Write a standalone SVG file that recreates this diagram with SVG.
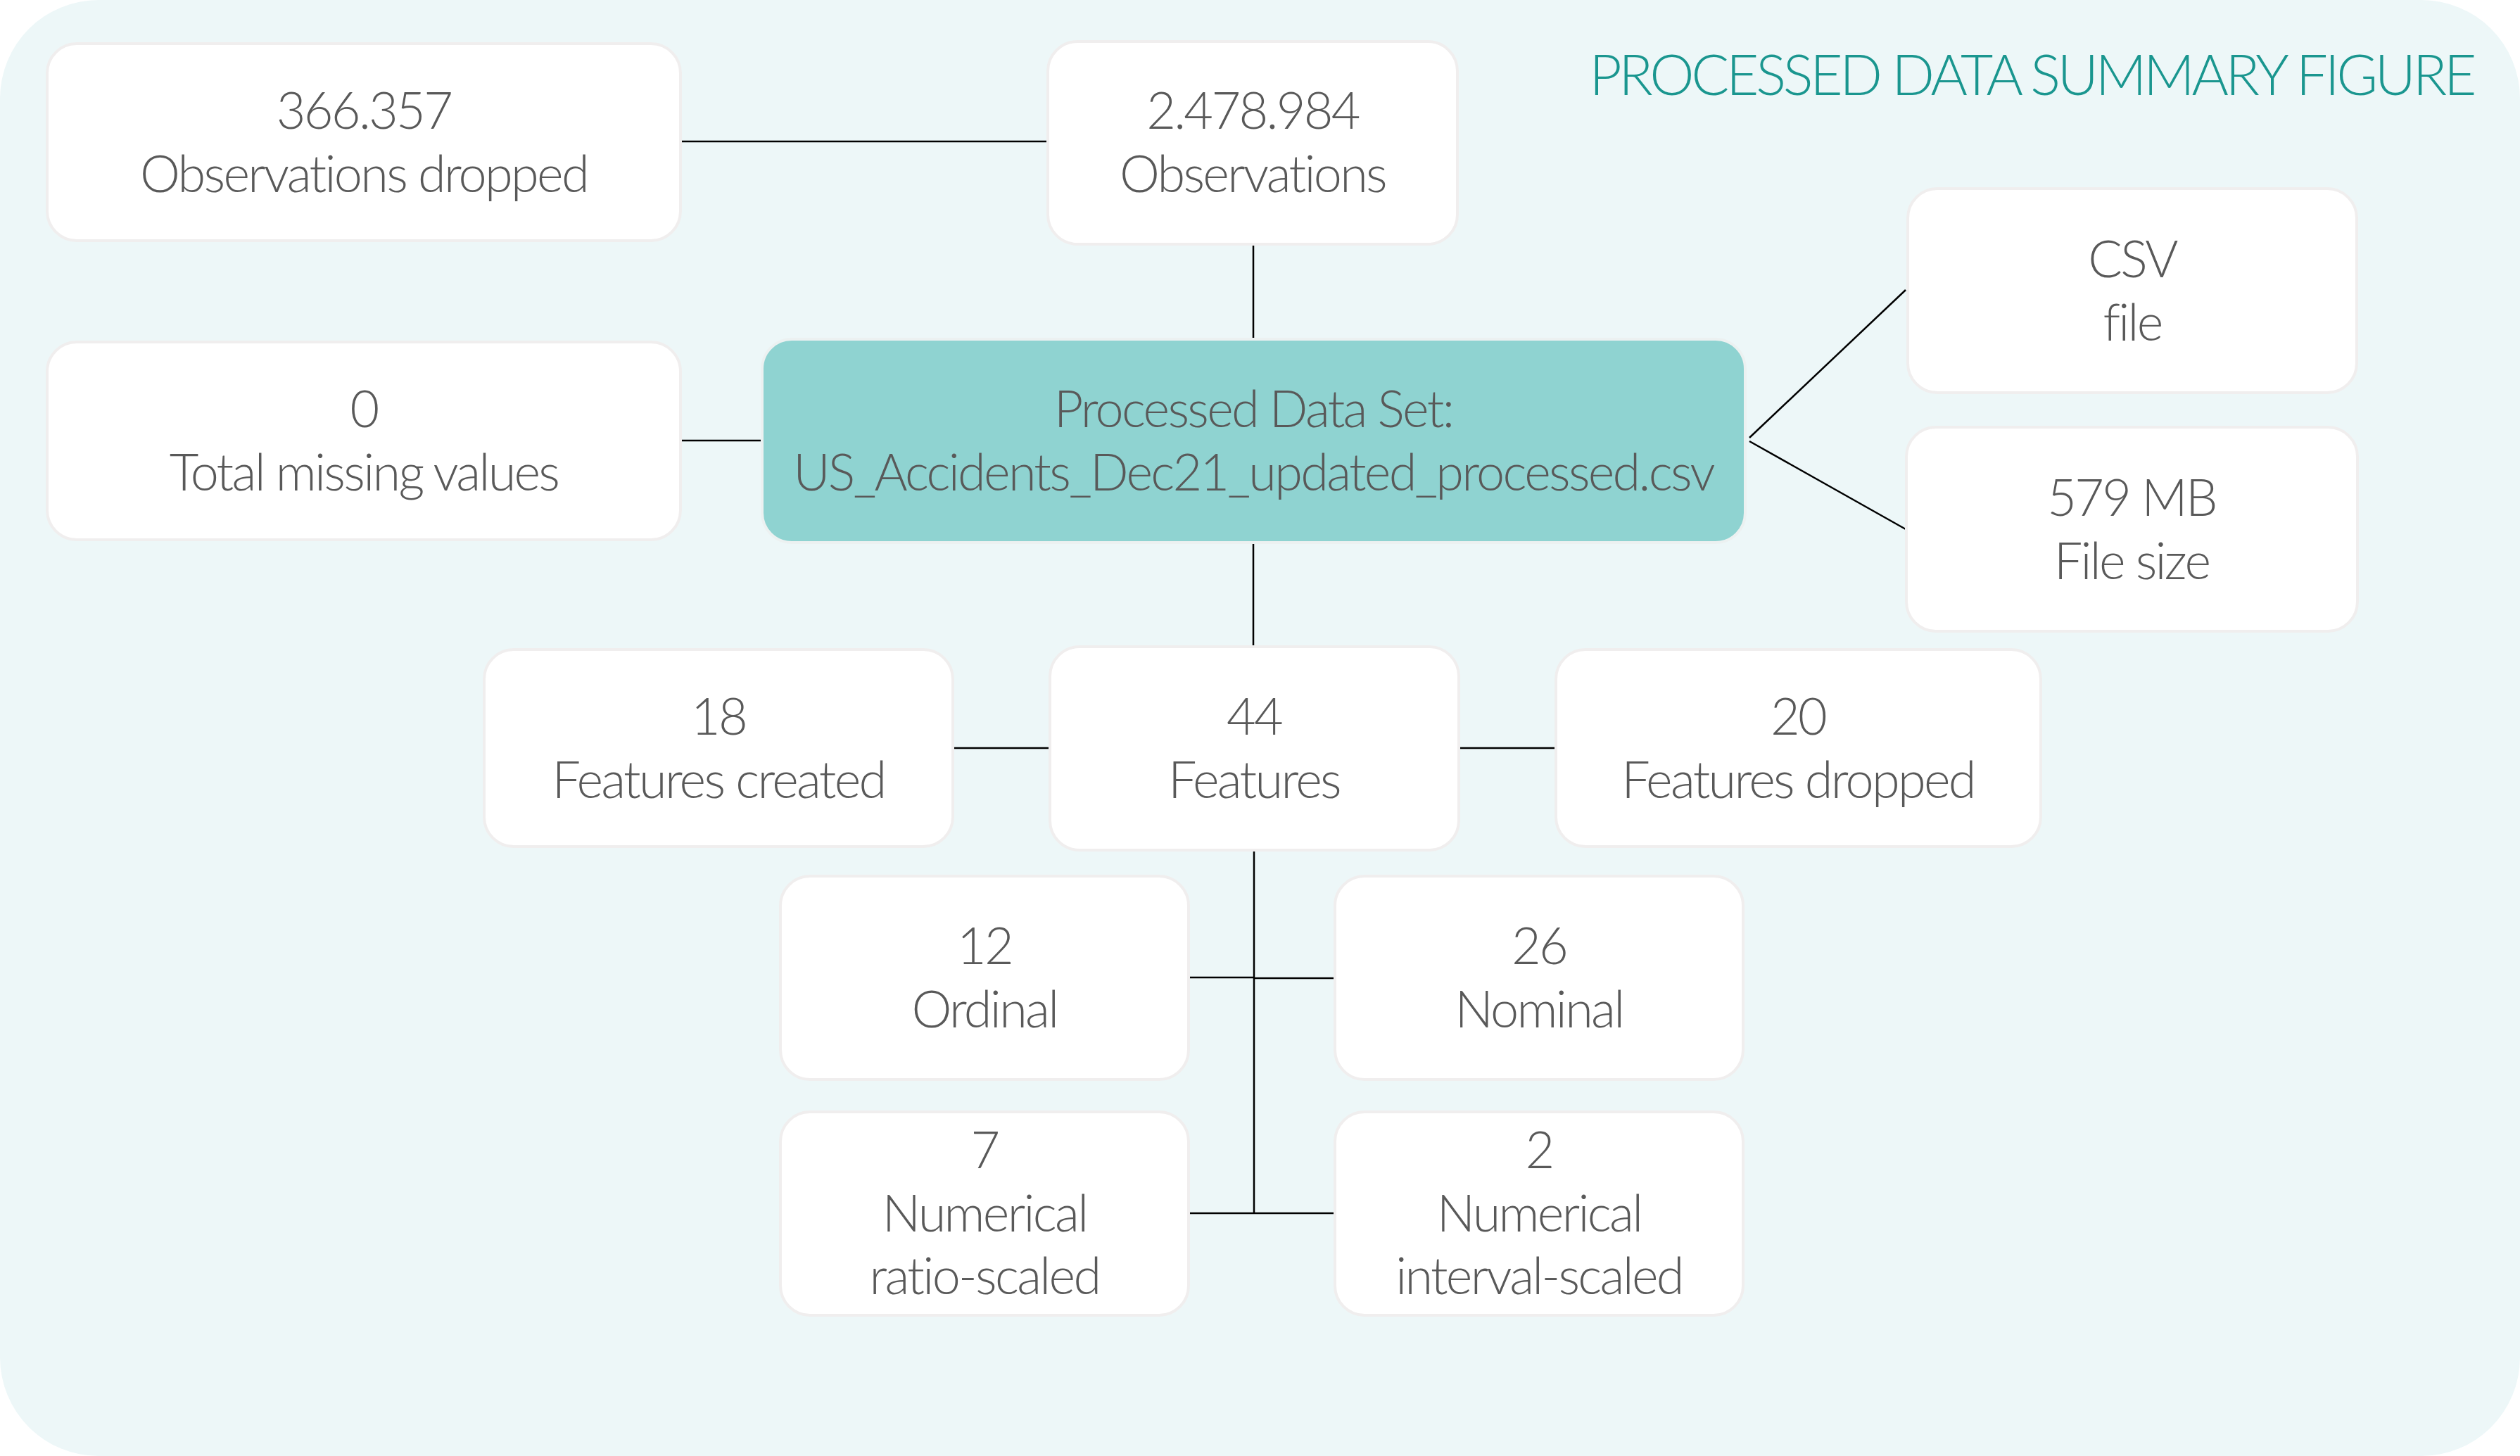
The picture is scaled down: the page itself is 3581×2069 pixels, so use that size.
<svg xmlns="http://www.w3.org/2000/svg" width="3581" height="2069" viewBox="0 0 3581 2069">
<style>
.bg{fill:#EDF7F8}
.box{fill:#FFFFFF;stroke:#F0EEEE;stroke-width:4}
.main{fill:#8FD3D1;stroke:#ECF1F1;stroke-width:4}
.t{font-family:Lato,"Liberation Sans",sans-serif;font-weight:300;font-size:72px;letter-spacing:-2.7px;fill:#595959;text-anchor:middle}
.title{font-family:Lato,"Liberation Sans",sans-serif;font-weight:300;font-size:80px;letter-spacing:-4.3px;fill:#1A968F;text-anchor:end}
.c{stroke:#000;stroke-width:2.5;fill:none}
</style>
<rect class="bg" x="0" y="0" width="3581" height="2069" rx="140" ry="140"/>
<text class="title" x="3515" y="135">PROCESSED DATA SUMMARY FIGURE</text>
<g id="connectors">
<line class="c" x1="967" y1="201" x2="1489" y2="201"/>
<line class="c" x1="1781" y1="347" x2="1781" y2="482"/>
<line class="c" x1="967" y1="626" x2="1083" y2="626"/>
<line class="c" x1="2486" y1="622" x2="2708" y2="412"/>
<line class="c" x1="2486" y1="627" x2="2708" y2="752"/>
<line class="c" x1="1781" y1="771" x2="1781" y2="919"/>
<line class="c" x1="1354" y1="1063" x2="1492" y2="1063"/>
<line class="c" x1="2073" y1="1063" x2="2211" y2="1063"/>
<line class="c" x1="1782" y1="1208" x2="1782" y2="1724"/>
<line class="c" x1="1689" y1="1389" x2="1782" y2="1389"/>
<line class="c" x1="1782" y1="1390" x2="1897" y2="1390"/>
<line class="c" x1="1689" y1="1724" x2="1897" y2="1724"/>
</g>
<g id="n-obs-dropped"><rect class="box" x="67" y="62" width="900" height="280" rx="42"/><text class="t" x="517" y="183">366.357</text><text class="t" x="517" y="273">Observations dropped</text></g>
<g id="n-observations"><rect class="box" x="1489" y="59" width="582" height="288" rx="42"/><text class="t" x="1780" y="183">2.478.984</text><text class="t" x="1780" y="273">Observations</text></g>
<g id="n-processed"><rect class="main" x="1083" y="482" width="1397" height="289" rx="42"/><text class="t" x="1781" y="607">Processed Data Set:</text><text class="t" x="1781" y="697">US_Accidents_Dec21_updated_processed.csv</text></g>
<g id="n-missing"><rect class="box" x="67" y="486" width="900" height="281" rx="42"/><text class="t" x="517" y="607">0</text><text class="t" x="517" y="697">Total missing values</text></g>
<g id="n-csv"><rect class="box" x="2711" y="268" width="638" height="290" rx="42"/><text class="t" x="3030" y="394">CSV</text><text class="t" x="3030" y="484">file</text></g>
<g id="n-filesize"><rect class="box" x="2709" y="607" width="641" height="290" rx="42"/><text class="t" x="3029" y="733">579 MB</text><text class="t" x="3029" y="823">File size</text></g>
<g id="n-created"><rect class="box" x="688" y="923" width="666" height="280" rx="42"/><text class="t" x="1021" y="1044">18</text><text class="t" x="1021" y="1134">Features created</text></g>
<g id="n-features"><rect class="box" x="1492" y="919" width="581" height="289" rx="42"/><text class="t" x="1782" y="1044">44</text><text class="t" x="1782" y="1134">Features</text></g>
<g id="n-feat-dropped"><rect class="box" x="2211" y="923" width="689" height="280" rx="42"/><text class="t" x="2555" y="1044">20</text><text class="t" x="2555" y="1134">Features dropped</text></g>
<g id="n-ordinal"><rect class="box" x="1109" y="1245" width="580" height="289" rx="42"/><text class="t" x="1399" y="1370">12</text><text class="t" x="1399" y="1460">Ordinal</text></g>
<g id="n-nominal"><rect class="box" x="1897" y="1245" width="580" height="289" rx="42"/><text class="t" x="2187" y="1370">26</text><text class="t" x="2187" y="1460">Nominal</text></g>
<g id="n-ratio"><rect class="box" x="1109" y="1580" width="580" height="289" rx="42"/><text class="t" x="1399" y="1660">7</text><text class="t" x="1399" y="1750">Numerical</text><text class="t" x="1399" y="1839">ratio-scaled</text></g>
<g id="n-interval"><rect class="box" x="1897" y="1580" width="580" height="289" rx="42"/><text class="t" x="2187" y="1660">2</text><text class="t" x="2187" y="1750">Numerical</text><text class="t" x="2187" y="1839">interval-scaled</text></g>
</svg>
